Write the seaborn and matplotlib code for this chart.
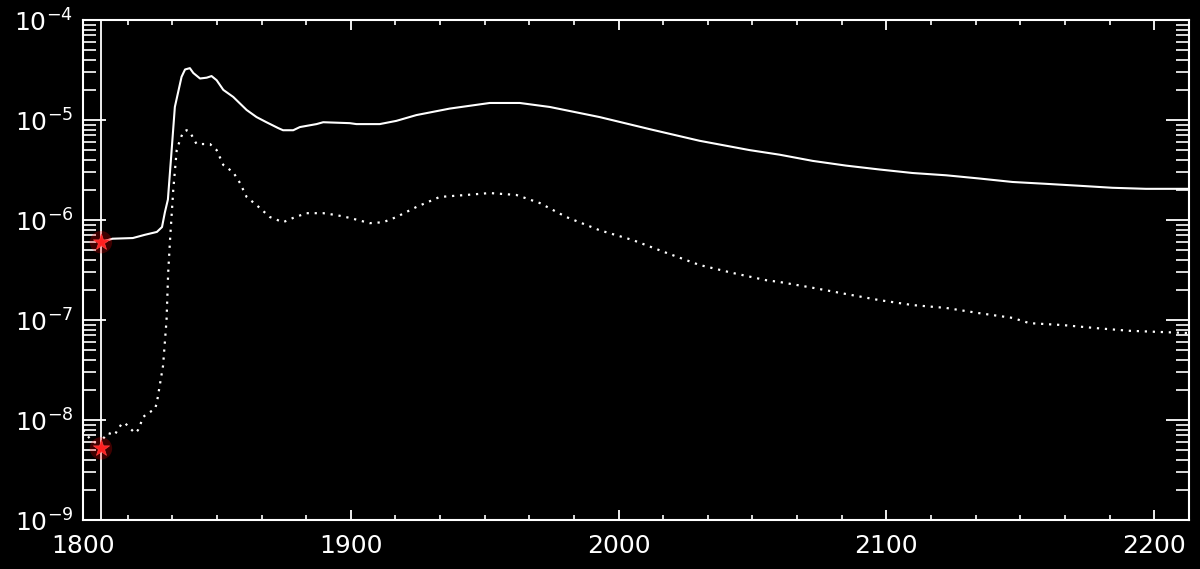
import numpy as np
import pandas as pd
import matplotlib
matplotlib.use("Agg")
import matplotlib.pyplot as plt
from matplotlib.ticker import MultipleLocator, LogLocator, LogFormatterMathtext, NullFormatter
import seaborn as sns

# Upper curve (solid)
upper_year = [1806.7, 1811.0, 1818.6, 1823.0, 1827.6, 1829.5, 1830.6, 1831.7, 1833.1, 1834.3,
              1836.8, 1838.1, 1839.9, 1841.2, 1843.7, 1846.2, 1848.0, 1849.9, 1852.4, 1856.1,
              1861.1, 1864.8, 1868.5, 1872.9, 1874.7, 1878.5, 1881.0, 1887.2, 1889.7, 1899.6,
              1902.1, 1910.8, 1917.0, 1924.5, 1936.9, 1951.9, 1963.1, 1974.3, 1992.9, 2011.6,
              2030.2, 2048.9, 2060.1, 2072.5, 2084.9, 2097.4, 2109.8, 2122.3, 2134.7, 2147.1,
              2159.6, 2172.0, 2184.4, 2196.9, 2213.0]
upper_value = [6.0e-7, 6.5e-7, 6.6e-7, 7.1e-7, 7.6e-7, 8.5e-7, 1.2e-6, 1.6e-6, 5.0e-6, 1.35e-5,
               2.7e-5, 3.2e-5, 3.3e-5, 2.95e-5, 2.6e-5, 2.65e-5, 2.75e-5, 2.5e-5, 2.0e-5, 1.7e-5,
               1.26e-5, 1.07e-5, 9.5e-6, 8.3e-6, 7.9e-6, 7.9e-6, 8.5e-6, 9.1e-6, 9.5e-6, 9.3e-6,
               9.1e-6, 9.1e-6, 9.8e-6, 1.12e-5, 1.3e-5, 1.48e-5, 1.48e-5, 1.35e-5, 1.07e-5, 8.1e-6,
               6.2e-6, 5.0e-6, 4.5e-6, 3.9e-6, 3.5e-6, 3.2e-6, 2.95e-6, 2.8e-6, 2.6e-6, 2.4e-6,
               2.3e-6, 2.2e-6, 2.1e-6, 2.05e-6, 2.05e-6]

# Lower curve (dotted)
lower_year = [1800.0, 1803.0, 1806.7, 1807.5, 1809.3, 1811.9, 1812.7, 1814.6, 1815.7, 1817.5,
              1819.4, 1820.5, 1821.6, 1822.4, 1824.3, 1826.9, 1827.6, 1829.9, 1831.2, 1831.8,
              1832.5, 1833.7, 1835.0, 1836.2, 1837.4, 1838.7, 1839.9, 1842.4, 1847.4, 1849.9,
              1852.4, 1856.1, 1858.6, 1861.1, 1864.8, 1869.8, 1874.7, 1878.5, 1883.4, 1889.7,
              1894.6, 1899.6, 1907.1, 1912.1, 1917.0, 1924.5, 1933.2, 1943.1, 1951.9, 1961.8,
              1970.5, 1980.5, 1992.9, 2005.3, 2017.8, 2030.2, 2042.7, 2055.1, 2060.1, 2072.5,
              2084.9, 2097.4, 2109.8, 2122.3, 2134.7, 2147.1, 2153.4, 2165.8, 2178.2, 2190.7,
              2213.0]
lower_value = [7.9e-9, 6.3e-9, 5.5e-9, 6.5e-9, 7.4e-9, 7.1e-9, 7.8e-9, 9.3e-9, 9.3e-9, 8.3e-9,
               7.4e-9, 7.9e-9, 9.3e-9, 1.07e-8, 1.17e-8, 1.29e-8, 1.5e-8, 3.5e-8, 1.0e-7, 2.95e-7,
               6.3e-7, 2.0e-6, 5.0e-6, 6.3e-6, 7.6e-6, 7.9e-6, 7.6e-6, 5.75e-6, 5.75e-6, 5.0e-6,
               3.55e-6, 3.0e-6, 2.35e-6, 1.7e-6, 1.41e-6, 1.07e-6, 9.5e-7, 1.05e-6, 1.17e-6, 1.17e-6,
               1.12e-6, 1.05e-6, 9.3e-7, 9.5e-7, 1.07e-6, 1.35e-6, 1.7e-6, 1.78e-6, 1.86e-6, 1.78e-6,
               1.48e-6, 1.07e-6, 7.9e-7, 6.3e-7, 4.7e-7, 3.55e-7, 2.95e-7, 2.5e-7, 2.4e-7, 2.1e-7,
               1.82e-7, 1.58e-7, 1.41e-7, 1.32e-7, 1.17e-7, 1.05e-7, 9.3e-8, 8.9e-8, 8.3e-8, 7.8e-8,
               7.4e-8]

# Starting points marked in red
mark_year = [1806.7, 1806.7]
mark_value = [6.0e-7, 5.2e-9]

sns.set_theme(style="ticks", rc={
    "figure.facecolor": "black",
    "axes.facecolor": "black",
    "axes.edgecolor": "white",
    "axes.linewidth": 1.5,
    "xtick.color": "white",
    "ytick.color": "white",
    "text.color": "white",
    "axes.grid": False,
})
plt.rcParams["font.family"] = ["DejaVu Sans"]
plt.rcParams["mathtext.default"] = "regular"

fig = plt.figure(figsize=(12, 5.69), dpi=100)
ax = fig.add_axes([83 / 1200, 1 - 520 / 569, (1189 - 83) / 1200, 500 / 569])

upper = pd.DataFrame({"year": upper_year, "value": upper_value})
lower = pd.DataFrame({"year": lower_year, "value": lower_value})
marks = pd.DataFrame({"year": mark_year, "value": mark_value})

sns.lineplot(data=upper, x="year", y="value", ax=ax, color="white", lw=1.5,
             sort=False, estimator=None)
sns.lineplot(data=lower, x="year", y="value", ax=ax, color="white", lw=1.6,
             linestyle=(0, (1.0, 2.6)), sort=False, estimator=None)

ax.axvline(mark_year[0], color="white", lw=1.3)

# soft red glow under the star markers
sns.scatterplot(data=marks, x="year", y="value", ax=ax, color="red", s=260,
                alpha=0.25, edgecolor="none", zorder=5)
sns.scatterplot(data=marks, x="year", y="value", ax=ax, color="#ff2020", marker="*",
                s=150, edgecolor="#ff4040", linewidth=0.5, zorder=6)

ax.set_yscale("log")
ax.set_xlim(1800, 2213)
ax.set_ylim(1e-9, 1e-4)

ax.xaxis.set_major_locator(MultipleLocator(100))
ax.xaxis.set_minor_locator(MultipleLocator(100 / 6))
ax.xaxis.set_minor_formatter(NullFormatter())
ax.yaxis.set_major_locator(LogLocator(base=10, numticks=10))
ax.yaxis.set_minor_locator(LogLocator(base=10, subs=np.arange(2, 10), numticks=20))
ax.yaxis.set_major_formatter(LogFormatterMathtext())
ax.yaxis.set_minor_formatter(NullFormatter())

ax.tick_params(axis="x", which="major", direction="in", length=7.5, width=1.3,
               top=True, bottom=True, labelsize=18, pad=10)
ax.tick_params(axis="x", which="minor", direction="in", length=3.5, width=1.2,
               top=True, bottom=True)
ax.tick_params(axis="y", which="major", direction="in", length=16.5, width=1.3,
               left=True, right=True, labelsize=18, pad=7)
ax.tick_params(axis="y", which="minor", direction="in", length=9.5, width=1.2,
               left=True, right=True)

# no axis titles
ax.xaxis.label.set_visible(False)
ax.yaxis.label.set_visible(False)
for s in ax.spines.values():
    s.set_visible(True)
    s.set_color("white")
    s.set_linewidth(1.5)

fig.savefig("out.png", dpi=100, facecolor="black")
